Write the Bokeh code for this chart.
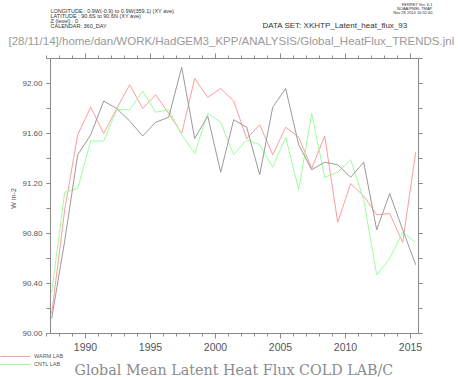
import math
from bokeh.plotting import figure
from bokeh.models import (Range1d, LinearAxis, FixedTicker, Label, Legend, LegendItem,
                          NumeralTickFormatter, CustomJSTickFormatter)
from bokeh.embed import file_html
from bokeh.resources import INLINE

# ---------------- data ----------------
years = list(range(1987, 2016))
warm_lab = [90.16, 90.99, 91.59, 91.81, 91.60, 91.80, 91.99, 91.80, 91.91, 91.76,
            91.60, 92.04, 91.89, 91.96, 91.86, 91.56, 91.67, 91.43, 91.65, 91.57,
            91.32, 91.58, 90.89, 91.20, 91.10, 90.95, 90.96, 90.73, 91.45]
cntl_lab = [90.33, 91.13, 91.16, 91.54, 91.54, 91.79, 91.79, 91.94, 91.77, 91.79,
            91.59, 91.44, 91.76, 91.69, 91.43, 91.55, 91.51, 91.33, 91.57, 91.15,
            91.76, 91.25, 91.29, 91.39, 91.07, 90.47, 90.60, 90.81, 90.73]
cold_lab = [90.12, 90.74, 91.43, 91.59, 91.86, 91.80, 91.70, 91.58, 91.69, 91.73,
            92.13, 91.56, 91.74, 91.29, 91.71, 91.65, 91.27, 91.81, 91.96, 91.51,
            91.31, 91.37, 91.35, 91.25, 91.37, 90.83, 91.12, 90.83, 90.55]
x_major = [1990, 1995, 2000, 2005, 2010, 2015]
y_major = [90.0, 90.4, 90.8, 91.2, 91.6, 92.0]
y_minor = [90.0, 90.2, 90.4, 90.6, 90.8, 91.0, 91.2, 91.4, 91.6, 91.8, 92.0, 92.2]
series_names = ["WARM LAB", "CNTL LAB"]
title_text = "Global Mean Latent Heat Flux COLD LAB/C"
y_label = "W m-2"
header_lines = ["LONGITUDE : 0.9W(-0.9) to 0.9W(359.1) (XY ave)",
                "LATITUDE : 90.6S to 90.6N (XY ave)",
                "Z (level) : 0",
                "CALENDAR: 360_DAY"]
ferret_lines = ["FERRET Ver. 6.1", "NOAA/PMEL TMAP", "Nov 28 2014 16:32:40"]
dataset_text = "DATA SET: XKHTP_Latent_heat_flux_93"
jnl_text = "[28/11/14]/home/dan/WORK/HadGEM3_KPP/ANALYSIS/Global_HeatFlux_TRENDS.jnl"

# mid-year time stamps (360-day calendar)
t = [y + 0.4 for y in years]

# ---------------- geometry ----------------
W, H = 458, 377
PXY = 13.0      # px per year
PYU = 125.0     # px per W m-2
BOX_L, BOX_R, BOX_T, BOX_B = 50, 418, 58, 333   # plot box inside the canvas
X0, X1 = 1987.308, 1987.308 + (BOX_R - BOX_L) / PXY
Y0, Y1 = 90.0, 92.2
xr = Range1d(X0 - BOX_L / PXY, X1 + (W - BOX_R) / PXY)
yr_ = Range1d(Y0 - (H - BOX_B) / PYU, Y1 + BOX_T / PYU)

p = figure(width=W, height=H, output_backend="svg", toolbar_location=None,
           x_range=xr, y_range=yr_, min_border=0,
           x_axis_location=None, y_axis_location=None)
p.grid.visible = False
p.outline_line_color = None
p.background_fill_color = "white"
p.border_fill_color = "white"

AX = "#8a8a8a"
LBL = "#555555"

def style_axis(ax, labels=True, major_out=4, minor_out=4):
    ax.axis_line_color = AX
    ax.major_tick_line_color = AX
    ax.minor_tick_line_color = AX
    ax.major_tick_in = 0
    ax.minor_tick_in = 0
    ax.major_tick_out = major_out
    ax.minor_tick_out = minor_out
    if labels:
        ax.major_label_text_color = LBL
        ax.major_label_text_font = "Liberation Sans"
    else:
        ax.formatter = CustomJSTickFormatter(code="return '';")
        ax.major_label_standoff = 0

xt = FixedTicker(ticks=x_major, minor_ticks=years)
yt = FixedTicker(ticks=y_major, minor_ticks=y_minor)

xb = LinearAxis(ticker=xt, fixed_location=Y0, bounds=(X0, X1))
style_axis(xb, True, 5, 3)
xb.major_label_text_font_size = "10.5px"
xb.major_label_standoff = 4
xtop = LinearAxis(ticker=xt, fixed_location=Y1, bounds=(X0, X1))
style_axis(xtop, False, 5, 3)
yl = LinearAxis(ticker=yt, fixed_location=X0, bounds=(Y0, Y1))
style_axis(yl, True, 4, 4)
yl.major_label_text_font_size = "8px"
yl.major_label_standoff = 4
yl.formatter = NumeralTickFormatter(format="0.00")
yrax = LinearAxis(ticker=yt, fixed_location=X1, bounds=(Y0, Y1))
style_axis(yrax, False, 4, 4)
p.add_layout(xb, "below")
p.add_layout(xtop, "above")
p.add_layout(yl, "left")
p.add_layout(yrax, "right")

r_warm = p.line(t, warm_lab, line_color="#ff9c9c", line_width=1)
r_cntl = p.line(t, cntl_lab, line_color="#9cff9c", line_width=1)
r_cold = p.line(t, cold_lab, line_color="#9a9a9a", line_width=1)

# window pixel -> data coordinate helpers for text placement
def DX(px):
    return X0 + (px - BOX_L) / PXY

def DY(py):
    return Y0 + (BOX_B - py) / PYU

def lab(px, py, text, size, color="#333333", font="Liberation Sans", align="left",
        baseline="middle", angle=0.0):
    p.add_layout(Label(x=DX(px), y=DY(py), text=text, text_font_size=size,
                       text_color=color, text_font=font, text_align=align,
                       text_baseline=baseline, angle=angle))

for i, s in enumerate(header_lines):
    lab(50, 10 + 5.3 * i, s, "5.5px")
for i, s in enumerate(ferret_lines):
    lab(432, 3.5 + 4 * i, s, "4px", align="right")
lab(262, 25, dataset_text, "8px")
lab(8, 40, jnl_text, "11.5px", color="#9a9a9a")
lab(13, 198, y_label, "7px", color=LBL, align="center", angle=math.pi / 2)
lab(74, 369, title_text, "14.3px", color="#8c8c8c", font="DejaVu Serif")

legend = Legend(items=[LegendItem(label=series_names[0], renderers=[r_warm]),
                       LegendItem(label=series_names[1], renderers=[r_cntl])],
                location=(0, 9), glyph_width=30, glyph_height=8, label_height=8,
                spacing=0, padding=0, margin=0, label_standoff=4,
                label_text_font_size="5.5px", label_text_color="#555555",
                label_text_font="Liberation Sans",
                background_fill_alpha=0, border_line_color=None)
p.add_layout(legend, "center")

open("out.html", "w").write(file_html(p, INLINE))
